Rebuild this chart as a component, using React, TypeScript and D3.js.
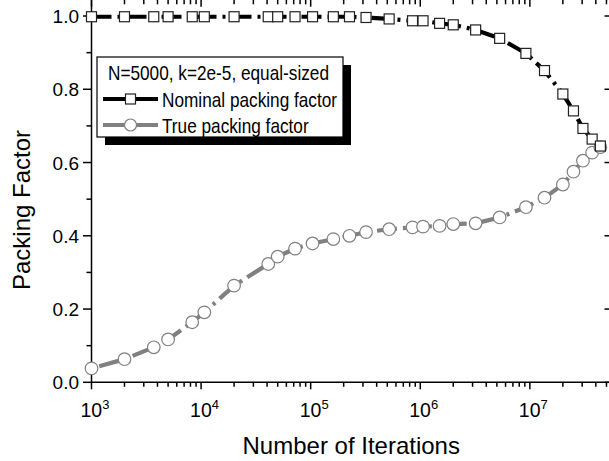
import React from "react";
import * as d3 from "d3";

const iterations = [1000, 2000, 3700, 5000, 8300, 10700, 20000, 41000, 50000, 72000, 104000, 161000, 226000, 320000, 520000, 850000, 1060000, 1500000, 2000000, 3200000, 5300000, 9200000, 13600000, 20000000, 25000000, 30500000, 37000000, 44000000];
const nominal = [0.998, 0.998, 0.998, 0.998, 0.998, 0.998, 0.998, 0.998, 0.998, 0.998, 0.998, 0.998, 0.998, 0.996, 0.992, 0.987, 0.987, 0.98, 0.976, 0.962, 0.939, 0.898, 0.851, 0.787, 0.741, 0.693, 0.664, 0.645];
const truePF = [0.038, 0.063, 0.0955, 0.117, 0.164, 0.191, 0.264, 0.323, 0.343, 0.365, 0.379, 0.391, 0.4, 0.41, 0.418, 0.423, 0.425, 0.427, 0.432, 0.434, 0.45, 0.478, 0.504, 0.54, 0.575, 0.605, 0.627, 0.642];
const yTickLabels = ["0.0", "0.2", "0.4", "0.6", "0.8", "1.0"];
const yTicks = [0, 0.2, 0.4, 0.6, 0.8, 1.0];
const yMinor = [0.1, 0.3, 0.5, 0.7, 0.9];
const xExponents = [3, 4, 5, 6, 7];
const legendTitle = "N=5000, k=2e-5, equal-sized";
const seriesNames = ["Nominal packing factor", "True packing factor"];
const xTitle = "Number of Iterations";
const yTitle = "Packing Factor";

const FONT = "'Liberation Sans', Arial, sans-serif";
const W = 609, H = 461;
const L = 91.5, R = 611, T = -2.3, B = 382.3;

export default function App() {
  const x = d3.scaleLog().domain([1e3, 5.5e7]).range([L, R]);
  const y = d3.scaleLinear().domain([0, 1.05]).range([B, T]);

  const majorX: number[] = xExponents.map((e) => Math.pow(10, e));
  const minorX: number[] = [];
  for (let e = 3; e <= 7; e++) {
    for (let m = 2; m <= 9; m++) {
      const v = m * Math.pow(10, e);
      if (v <= 5.5e7) minorX.push(v);
    }
  }

  const line = d3
    .line<number>()
    .x((_, i) => x(iterations[i]))
    .y((d) => y(d));

  const gray = "#808080";
  const LS = 0.82; // legend horizontal text scale
  const LF = 21;

  return (
    <svg width={W} height={H} style={{ position: "absolute", left: 0, top: 0, background: "#fff" }} fontFamily={FONT}>
      <rect x={0} y={0} width={W} height={H} fill="#fff" />
      {/* axes lines */}
      <line x1={L} x2={L} y1={T} y2={B} stroke="#000" strokeWidth={1.5} />
      <line x1={L} x2={R} y1={B} y2={B} stroke="#000" strokeWidth={1.5} />
      <line x1={L} x2={R} y1={T} y2={T} stroke="#000" strokeWidth={1.5} />
      <line x1={R} x2={R} y1={T} y2={B} stroke="#000" strokeWidth={1.5} />

      {/* bottom ticks (outward) and top ticks (inward) */}
      {majorX.map((v) => (
        <g key={"mx" + v}>
          <line x1={x(v)} x2={x(v)} y1={B} y2={B + 7} stroke="#000" strokeWidth={1.5} />
          <line x1={x(v)} x2={x(v)} y1={T} y2={6.7} stroke="#000" strokeWidth={1.5} />
        </g>
      ))}
      {minorX.map((v) => (
        <g key={"nx" + v}>
          <line x1={x(v)} x2={x(v)} y1={B} y2={B + 4.5} stroke="#000" strokeWidth={1.5} />
          <line x1={x(v)} x2={x(v)} y1={T} y2={4.3} stroke="#000" strokeWidth={1.5} />
        </g>
      ))}

      {/* left ticks (outward) and right ticks (inward) */}
      {yTicks.map((v) => (
        <g key={"my" + v}>
          <line x1={L - 8.5} x2={L} y1={y(v)} y2={y(v)} stroke="#000" strokeWidth={1.5} />
          <line x1={R - 6.5} x2={R} y1={y(v)} y2={y(v)} stroke="#000" strokeWidth={1.5} />
        </g>
      ))}
      {yMinor.map((v) => (
        <g key={"ny" + v}>
          <line x1={L - 5} x2={L} y1={y(v)} y2={y(v)} stroke="#000" strokeWidth={1.5} />
          <line x1={R - 2} x2={R} y1={y(v)} y2={y(v)} stroke="#000" strokeWidth={1.5} />
        </g>
      ))}

      {/* y tick labels */}
      {yTicks.map((v, i) => (
        <text key={"yl" + v} x={79} y={y(v) + 7} textAnchor="end" fontSize={19} fill="#000">
          {yTickLabels[i]}
        </text>
      ))}

      {/* x tick labels */}
      {xExponents.map((e) => (
        <text key={"xl" + e} x={x(Math.pow(10, e)) - 11} y={417} fontSize={19.5} fill="#000">
          10
          <tspan fontSize={13} dy={-8.5}>
            {String(e)}
          </tspan>
        </text>
      ))}

      {/* axis titles */}
      <text x={(L + R) / 2} y={454} textAnchor="middle" fontSize={24} fill="#000">
        {xTitle}
      </text>
      <text transform={`translate(30,210) rotate(-90)`} textAnchor="middle" fontSize={24} fill="#000">
        {yTitle}
      </text>

      {/* series lines */}
      <path d={line(nominal) || ""} fill="none" stroke="#000" strokeWidth={4.2} strokeDasharray="20 6 3 6" />
      <path d={line(truePF) || ""} fill="none" stroke={gray} strokeWidth={4.2} strokeDasharray="20 6 3 6" strokeDashoffset={-8} />

      {/* markers */}
      {truePF.map((v, i) => (
        <circle key={"c" + i} cx={x(iterations[i])} cy={y(v)} r={6.3} fill="#fff" stroke={gray} strokeWidth={1.2} />
      ))}
      {nominal.map((v, i) => (
        <rect key={"s" + i} x={x(iterations[i]) - 5} y={y(v) - 5} width={10} height={10} fill="#fff" stroke="#222" strokeWidth={1.2} />
      ))}

      {/* legend */}
      <g>
        <rect x={105} y={65} width={246} height={80} fill="#000" />
        <rect x={97} y={57} width={246} height={80} fill="#fff" stroke="#000" strokeWidth={1.2} />
        <text transform={`translate(108,79.5) scale(${LS},1)`} fontSize={LF} fill="#000">
          {legendTitle}
        </text>
        <line x1={103} x2={158} y1={99} y2={99} stroke="#000" strokeWidth={4.2} />
        <rect x={125.5} y={94} width={10} height={10} fill="#fff" stroke="#222" strokeWidth={1.2} />
        <text transform={`translate(162,106.5) scale(${LS},1)`} fontSize={LF} fill="#000">
          {seriesNames[0]}
        </text>
        <line x1={103} x2={158} y1={125} y2={125} stroke={gray} strokeWidth={4.2} />
        <circle cx={130.5} cy={125} r={6} fill="#fff" stroke={gray} strokeWidth={1.2} />
        <text transform={`translate(162,132.5) scale(${LS},1)`} fontSize={LF} fill="#000">
          {seriesNames[1]}
        </text>
      </g>
    </svg>
  );
}
